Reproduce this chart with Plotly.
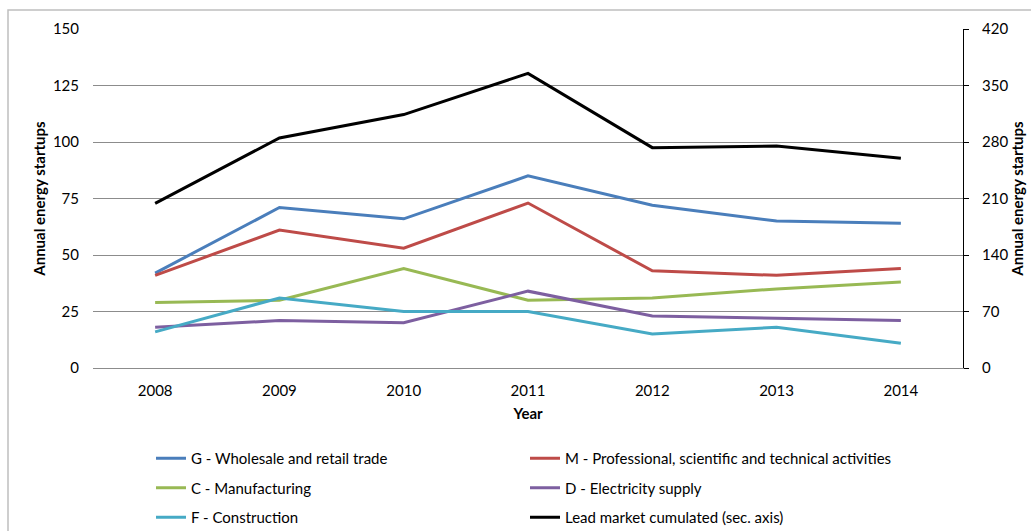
import plotly.graph_objects as go

years = ["2008", "2009", "2010", "2011", "2012", "2013", "2014"]

wholesale = [42, 71, 66, 85, 72, 65, 64]
professional = [41, 61, 53, 73, 43, 41, 44]
manufacturing = [29, 30, 44, 30, 31, 35, 38]
electricity = [18, 21, 20, 34, 23, 22, 21]
construction = [16, 31, 25, 25, 15, 18, 11]
lead_market = [204, 285, 314, 365, 273, 275, 260]

left_ticks = [0, 25, 50, 75, 100, 125, 150]
right_ticks = [0, 70, 140, 210, 280, 350, 420]

FONT = "Lato"
GRID = "#8c8c8c"

series = [
    ("G - Wholesale and retail trade", wholesale, "#4A7EBB", "y", "legend"),
    ("M - Professional, scientific and technical activities", professional, "#BE4B48", "y", "legend2"),
    ("C - Manufacturing", manufacturing, "#98B954", "y", "legend"),
    ("D - Electricity supply", electricity, "#7D5FA0", "y", "legend2"),
    ("F - Construction", construction, "#46AAC5", "y", "legend"),
    ("Lead market cumulated (sec. axis)", lead_market, "#000000", "y2", "legend2"),
]

fig = go.Figure()
for name, vals, color, axis, leg in series:
    fig.add_trace(go.Scatter(
        x=years, y=vals, name=name, mode="lines",
        line=dict(color=color, width=3),
        yaxis=axis, legend=leg, legendgroup=name,
    ))

W, H = 1031, 531
ML, MR, MT, MB = 93, 68, 29, 163
PW, PH = W - ML - MR, H - MT - MB


def px_x(px):
    return (px - ML) / PW


def px_y(py):
    return (H - MB - py) / PH


legend_common = dict(
    xref="paper", yref="paper",
    yanchor="top", xanchor="left",
    orientation="v", tracegroupgap=7,
    font=dict(family=FONT, size=15, color="#000000"),
    bgcolor="rgba(0,0,0,0)", borderwidth=0,
)

fig.update_layout(
    width=W, height=H,
    margin=dict(l=ML, r=MR, t=MT, b=MB, autoexpand=False),
    paper_bgcolor="white", plot_bgcolor="white",
    font=dict(family=FONT, size=15, color="#000000"),
    showlegend=True,
    xaxis=dict(
        type="category", range=[-0.5, 6.5],
        showgrid=False, zeroline=False,
        showline=True, linecolor=GRID, linewidth=1,
        ticks="", tickfont=dict(size=15), tickangle=0,
        ticklabelstandoff=9,
        title=dict(text="<b>Year</b>", font=dict(size=15), standoff=10),
    ),
    yaxis=dict(
        range=[0, 150], tickvals=left_ticks,
        showgrid=True, gridcolor=GRID, gridwidth=1,
        zeroline=False, showline=False, ticks="",
        tickfont=dict(size=15), ticklabelstandoff=13,
        title=dict(text="<b>Annual energy startups</b>", font=dict(size=15), standoff=3),
    ),
    yaxis2=dict(
        range=[0, 420], tickvals=right_ticks,
        overlaying="y", side="right",
        showgrid=False, zeroline=False,
        showline=True, linecolor="#000000", linewidth=1,
        ticks="outside", ticklen=5, tickcolor="#000000",
        tickfont=dict(size=15), ticklabelstandoff=10,
        title=dict(text="<b>Annual energy startups</b>", font=dict(size=15), standoff=3),
    ),
    legend=dict(x=px_x(151), y=px_y(442), **legend_common),
    legend2=dict(x=px_x(525), y=px_y(442), **legend_common),
    shapes=[dict(
        type="rect", xref="paper", yref="paper",
        x0=px_x(8), x1=px_x(W + 20),
        y0=px_y(H + 20), y1=px_y(10),
        line=dict(color="#bfbfbf", width=1.5), fillcolor="rgba(0,0,0,0)",
        layer="below",
    )],
)

fig.write_html("out.html")
